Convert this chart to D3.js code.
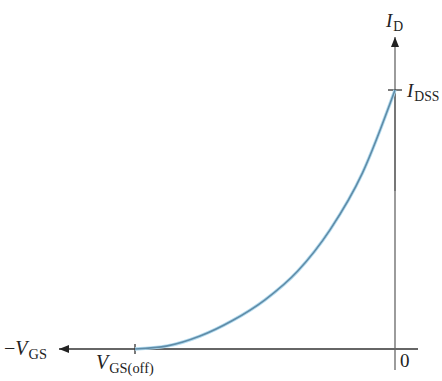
<!DOCTYPE html>
<html>
<head>
<meta charset="utf-8">
<script src="https://cdn.jsdelivr.net/npm/d3@7"></script>
<style>
  html, body { margin: 0; padding: 0; background: #fff; }
  svg { display: block; }
  text { font-family: "Liberation Serif", "DejaVu Serif", serif; fill: #222; }
</style>
</head>
<body>
<script>
// JFET transfer characteristic: drain current versus gate-source voltage
const vgsValues = [-4, -3.5, -3, -2.5, -2, -1.5, -1, -0.5, 0];
const idValues  = [0, 0.12, 0.5, 1.1, 1.9, 3.0, 4.6, 6.8, 10];
const vgsOff = -4;
const idss = 10;

const W = 442, H = 381;
const svg = d3.select("body").append("svg").attr("width", W).attr("height", H);

const x = d3.scaleLinear().domain([vgsOff, 0]).range([135, 395]);
const y = d3.scaleLinear().domain([0, idss]).range([349, 90]);

const defs = svg.append("defs");
defs.append("marker")
  .attr("id", "arrow")
  .attr("viewBox", "0 0 10 8")
  .attr("refX", 10).attr("refY", 4)
  .attr("markerWidth", 11).attr("markerHeight", 8)
  .attr("markerUnits", "userSpaceOnUse")
  .attr("orient", "auto")
  .append("path").attr("d", "M0,0 L10,4 L0,8 Z").attr("fill", "#222");

const x0 = x(0), y0 = y(0);

// horizontal axis (arrow pointing toward negative V_GS)
svg.append("line")
  .attr("x1", 418).attr("y1", y0).attr("x2", 59).attr("y2", y0)
  .attr("stroke", "#333").attr("stroke-width", 1.3)
  .attr("marker-end", "url(#arrow)");

// vertical axis (arrow pointing up for I_D)
svg.append("line")
  .attr("x1", x0).attr("y1", 370).attr("x2", x0).attr("y2", 37)
  .attr("stroke", "#666").attr("stroke-width", 1.3)
  .attr("marker-end", "url(#arrow)");
// heavier stretch of the vertical axis just below I_DSS
svg.append("line")
  .attr("x1", x0).attr("x2", x0).attr("y1", y(idss)).attr("y2", y(6.1))
  .attr("stroke", "#777").attr("stroke-width", 2);

// tick marks at V_GS(off) and I_DSS
svg.append("line")
  .attr("x1", x(vgsOff)).attr("x2", x(vgsOff))
  .attr("y1", y0 - 5).attr("y2", y0 + 5)
  .attr("stroke", "#333").attr("stroke-width", 1.3);
svg.append("line")
  .attr("x1", x0 - 7).attr("x2", x0 + 7)
  .attr("y1", y(idss)).attr("y2", y(idss))
  .attr("stroke", "#333").attr("stroke-width", 1.3);

// the transfer curve
const pts = vgsValues.map((v, i) => [v, idValues[i]]);
const line = d3.line().x(d => x(d[0])).y(d => y(d[1])).curve(d3.curveMonotoneX);
svg.append("path").datum(pts).attr("d", line)
  .attr("fill", "none").attr("stroke", "#b3dbef").attr("stroke-width", 3.4);
svg.append("path").datum(pts).attr("d", line)
  .attr("fill", "none").attr("stroke", "#5f8ca8").attr("stroke-width", 1.6);

// labels
function label(xp, yp, size, main, sub, prefix) {
  const t = svg.append("text").attr("x", xp).attr("y", yp).attr("font-size", size);
  if (prefix) t.append("tspan").text(prefix);
  t.append("tspan").attr("font-style", "italic").text(main);
  if (sub) t.append("tspan").attr("font-size", size * 0.72).attr("dx", 1).attr("dy", 4).text(sub);
  return t;
}
label(386, 27, 19, "I", "D");
label(407, 97, 19, "I", "DSS");
label(4, 355, 20, "V", "GS", "\u2212");
label(96, 369, 20, "V", "GS(off)");
svg.append("text").attr("x", 400).attr("y", 367).attr("font-size", 19).text("0");
</script>
</body>
</html>
